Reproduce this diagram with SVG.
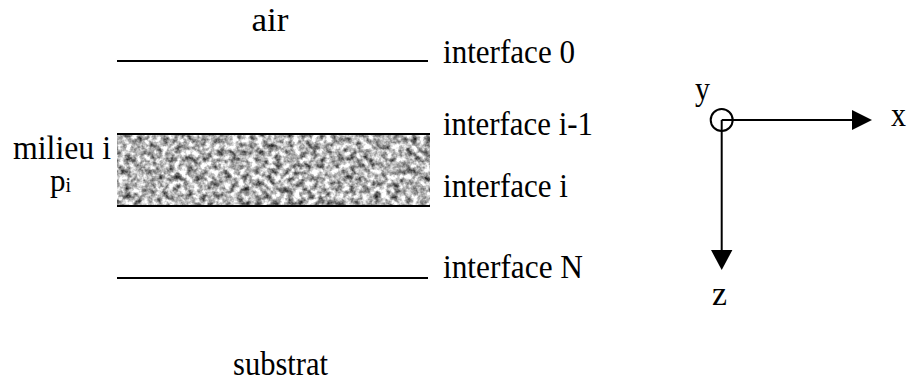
<svg xmlns="http://www.w3.org/2000/svg" width="907" height="381" viewBox="0 0 907 381">
  <style>
    text { font-family: "Liberation Serif", Tinos, "Times New Roman", Times, "Noto Serif", FreeSerif, "DejaVu Serif", serif; font-size: 34px; fill: #000; }
    .iface { stroke: #000; stroke-width: 2; fill: none; }
    .axis { stroke: #000; stroke-width: 2; fill: none; }
    .head { fill: #000; stroke: none; }
  </style>
  <defs>
    <filter id="noise" x="0" y="0" width="1" height="1" filterUnits="objectBoundingBox" color-interpolation-filters="sRGB">
      <feTurbulence type="fractalNoise" baseFrequency="0.16" numOctaves="3" seed="7" result="t"/>
      <feColorMatrix in="t" type="matrix" values="1.6 0 0 0 -0.1  1.6 0 0 0 -0.1  1.6 0 0 0 -0.1  0 0 0 0 1"/>
    </filter>
  </defs>

  <rect width="907" height="381" fill="#fff"/>

  <g id="air">
    <text x="251.5" y="31" textLength="37" lengthAdjust="spacingAndGlyphs">air</text>
  </g>

  <g id="interface-0">
    <line class="iface" x1="117" y1="61" x2="428" y2="61"/>
    <text x="443" y="63" textLength="132" lengthAdjust="spacingAndGlyphs">interface 0</text>
  </g>

  <g id="milieu-i">
    <rect x="117" y="134" width="313" height="72" filter="url(#noise)"/>
    <line class="iface" x1="117" y1="134" x2="430" y2="134"/>
    <line class="iface" x1="117" y1="206" x2="430" y2="206"/>
    <text x="13" y="159" textLength="98" lengthAdjust="spacingAndGlyphs">milieu i</text>
    <text x="50" y="191" style="font-size:31px">p<tspan style="font-size:20px" dy="1">i</tspan></text>
  </g>

  <g id="interface-i-1">
    <text x="443" y="135" textLength="150" lengthAdjust="spacingAndGlyphs">interface i-1</text>
  </g>

  <g id="interface-i">
    <text x="443" y="197" textLength="125" lengthAdjust="spacingAndGlyphs">interface i</text>
  </g>

  <g id="interface-N">
    <line class="iface" x1="117" y1="278" x2="428" y2="278"/>
    <text x="443" y="278" textLength="140" lengthAdjust="spacingAndGlyphs">interface N</text>
  </g>

  <g id="substrat">
    <text x="233" y="375" textLength="95" lengthAdjust="spacingAndGlyphs">substrat</text>
  </g>

  <g id="axis-y">
    <circle cx="721.7" cy="120" r="11" class="axis"/>
    <text x="695" y="100" textLength="15" lengthAdjust="spacingAndGlyphs">y</text>
  </g>
  <g id="axis-x-label">
    <text x="891" y="126" textLength="15" lengthAdjust="spacingAndGlyphs">x</text>
  </g>
  <g id="axis-z-label">
    <text x="712" y="305" textLength="15" lengthAdjust="spacingAndGlyphs">z</text>
  </g>

  <g id="connectors">
    <line class="axis" x1="721.7" y1="120" x2="853" y2="120"/>
    <polygon class="head" points="852,110 872,120 852,130"/>
    <line class="axis" x1="721.7" y1="120" x2="721.7" y2="251"/>
    <polygon class="head" points="711,250 732.4,250 721.7,270"/>
  </g>
</svg>
